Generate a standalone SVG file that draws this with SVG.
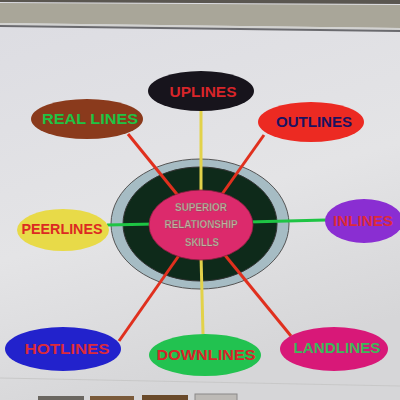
<svg xmlns="http://www.w3.org/2000/svg" width="400" height="400" viewBox="0 0 400 400">
<defs>
<linearGradient id="bg" x1="0" y1="0" x2="0.3" y2="1">
<stop offset="0" stop-color="#dcdce2"/>
<stop offset="0.6" stop-color="#e4e4e6"/>
<stop offset="1" stop-color="#d6d6d8"/>
</linearGradient>
</defs>
<style>
.lbl{font-family:"Liberation Sans",Arial,sans-serif;font-weight:bold;text-anchor:middle;dominant-baseline:central}
.n{font-size:14px}
.c{font-size:10.5px;fill:#c2b2a0;stroke:#6a5050;stroke-width:0.25}
.ln{stroke-width:3;fill:none}
.red{stroke:#e0301e}
.yel{stroke:#e2d24a}
.grn{stroke:#1ec444}
</style>
<rect x="0" y="0" width="400" height="400" fill="url(#bg)"/>
<polygon points="0,0 400,0 400,4 0,2" fill="#5a5650"/>
<polygon points="0,3 400,5 400,28 0,23" fill="#a9a699"/>
<polygon points="0,23 400,28 400,30 0,25" fill="#d2d2d0"/>
<polygon points="0,25 400,30 400,32 0,27" fill="#6a6a6e"/>
<line x1="0" y1="378" x2="400" y2="386" stroke="#c8c8c8" stroke-width="1"/>
<rect x="38" y="396" width="46" height="6" fill="#6a6660"/>
<rect x="90" y="396" width="44" height="6" fill="#7a5a3a"/>
<rect x="142" y="395" width="46" height="7" fill="#6a4a2a"/>
<rect x="195" y="394" width="42" height="8" fill="#bdbab6" stroke="#8a8888"/>

<g id="center">
<ellipse cx="200" cy="224" rx="89" ry="65" fill="#a6bcc4" stroke="#555" stroke-width="1"/>
<ellipse cx="200" cy="224" rx="77" ry="57" fill="#0e2a1a" stroke="#333" stroke-width="1"/>
</g>

<g id="connectors">
<line class="ln yel" x1="201" y1="110" x2="201" y2="195"/>
<line class="ln yel" x1="201" y1="255" x2="203" y2="334"/>
<line class="ln red" x1="128" y1="134" x2="180" y2="198"/>
<line class="ln red" x1="264" y1="135" x2="220" y2="197"/>
<line class="ln grn" x1="107" y1="225" x2="155" y2="224"/>
<line class="ln grn" x1="248" y1="222" x2="326" y2="220"/>
<line class="ln red" x1="119" y1="341" x2="180" y2="254"/>
<line class="ln red" x1="291" y1="336" x2="224" y2="254"/>
</g>

<g id="core">
<ellipse cx="201" cy="225" rx="52" ry="35" fill="#dc2a6c" stroke="#8a2040" stroke-width="0.8"/>
<text class="lbl c" x="201" y="207" textLength="52" lengthAdjust="spacingAndGlyphs">SUPERIOR</text>
<text class="lbl c" x="201" y="224" textLength="73" lengthAdjust="spacingAndGlyphs">RELATIONSHIP</text>
<text class="lbl c" x="202" y="242" textLength="34" lengthAdjust="spacingAndGlyphs">SKILLS</text>
</g>

<g id="uplines">
<ellipse cx="201" cy="91" rx="53" ry="20" fill="#17141c"/>
<text class="lbl n" x="203" y="92" fill="#d8252a" textLength="67" lengthAdjust="spacingAndGlyphs">UPLINES</text>
</g>
<g id="reallines">
<ellipse cx="87" cy="119" rx="56" ry="20" fill="#8a3a1c"/>
<text class="lbl n" x="90" y="119" fill="#1ec444" textLength="96" lengthAdjust="spacingAndGlyphs">REAL LINES</text>
</g>
<g id="outlines">
<ellipse cx="311" cy="122" rx="53" ry="20" fill="#ec2a22"/>
<text class="lbl n" x="314" y="122" fill="#1a1260" textLength="76" lengthAdjust="spacingAndGlyphs">OUTLINES</text>
</g>
<g id="peerlines">
<ellipse cx="63" cy="230" rx="46" ry="21" fill="#e8da48"/>
<text class="lbl n" x="62" y="229" fill="#dc2a22" textLength="81" lengthAdjust="spacingAndGlyphs">PEERLINES</text>
</g>
<g id="inlines">
<ellipse cx="364" cy="221" rx="39" ry="22" fill="#8a2ed2"/>
<text class="lbl n" x="363" y="221" fill="#dc2a3a" textLength="60" lengthAdjust="spacingAndGlyphs">INLINES</text>
</g>
<g id="hotlines">
<ellipse cx="63" cy="349" rx="58" ry="22" fill="#2222cc"/>
<text class="lbl n" x="67" y="349" fill="#dc2a3a" textLength="85" lengthAdjust="spacingAndGlyphs">HOTLINES</text>
</g>
<g id="downlines">
<ellipse cx="205" cy="355" rx="56" ry="21" fill="#22c250"/>
<text class="lbl n" x="206" y="355" fill="#d8252a" textLength="99" lengthAdjust="spacingAndGlyphs">DOWNLINES</text>
</g>
<g id="landlines">
<ellipse cx="334" cy="349" rx="54" ry="22" fill="#d81878"/>
<text class="lbl n" x="337" y="348" fill="#3cb85a" textLength="87" lengthAdjust="spacingAndGlyphs">LANDLINES</text>
</g>
</svg>
